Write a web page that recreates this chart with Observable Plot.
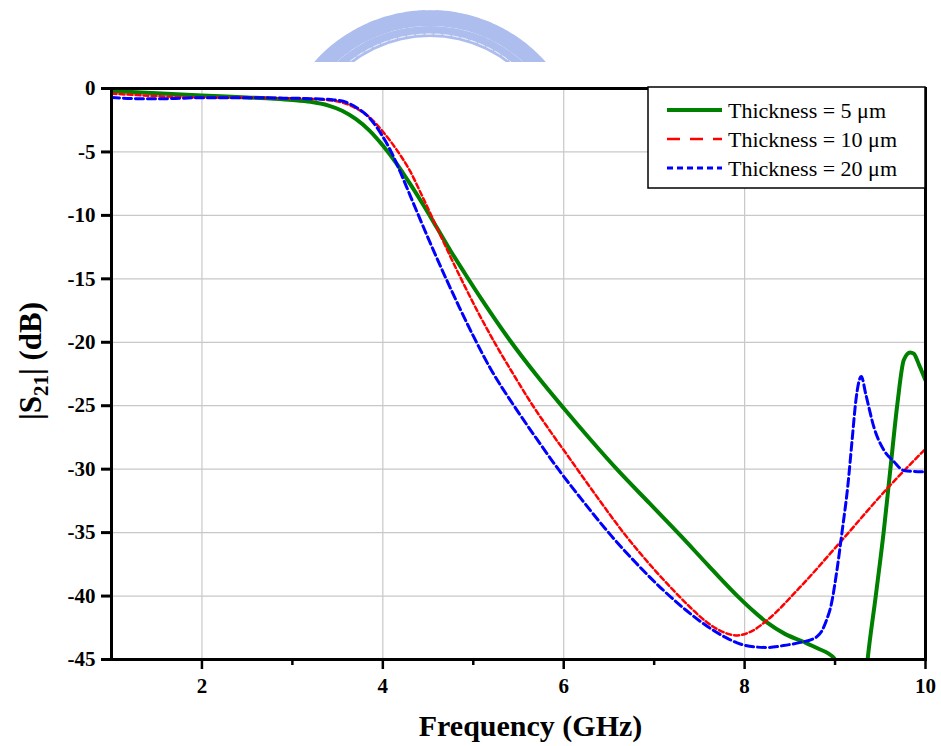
<!DOCTYPE html>
<html>
<head>
<meta charset="utf-8">
<script src="https://cdn.jsdelivr.net/npm/d3@7"></script>
<script src="https://cdn.jsdelivr.net/npm/@observablehq/plot@0.6"></script>
<style>
  body { margin: 0; background: #fff; }
  #wrap { position: relative; width: 941px; height: 746px; overflow: hidden; }
  #wrap svg { position: absolute; left: 0; top: 0; }
</style>
</head>
<body>
<div id="wrap"></div>
<script>
// ---- data ----
const seriesNames = ["Thickness = 5 \u03bcm", "Thickness = 10 \u03bcm", "Thickness = 20 \u03bcm"];
const seriesColors = ["#008000", "#ff0000", "#0000ff"];

const freq5 = [1.0,1.5,2.0,2.5,2.8,3.0,3.2,3.4,3.55,3.7,3.85,4.0,4.15,4.3,4.45,4.6,4.75,4.9,5.1,5.4,5.7,6.0,6.3,6.6,6.95,7.3,7.6,7.95,8.1,8.25,8.45,8.65,8.8,8.99,9.05,9.15,9.25,9.3,9.36,9.45,9.54,9.61,9.69,9.76,9.83,9.87,9.93,10.0];
const s21_5 = [-0.2,-0.38,-0.55,-0.7,-0.8,-0.9,-1.05,-1.35,-1.75,-2.4,-3.3,-4.5,-5.9,-7.5,-9.2,-11.0,-12.8,-14.5,-16.7,-19.8,-22.6,-25.2,-27.7,-30.1,-32.7,-35.3,-37.6,-40.2,-41.2,-42.1,-43.0,-43.6,-44.1,-44.9,-46.0,-50.0,-52.0,-49.5,-45.0,-40.0,-34.8,-30.1,-24.8,-21.4,-20.8,-20.9,-21.8,-23.0];

const freq10 = [1.0,1.5,2.0,2.5,2.9,3.2,3.4,3.55,3.7,3.85,4.0,4.15,4.3,4.45,4.6,4.75,4.9,5.05,5.25,5.45,5.65,5.85,6.05,6.35,6.66,7.0,7.22,7.4,7.59,7.75,7.92,8.07,8.25,8.6,9.1,9.58,10.0];
const s21_10 = [-0.4,-0.6,-0.7,-0.72,-0.76,-0.82,-0.92,-1.1,-1.55,-2.25,-3.4,-4.8,-6.5,-8.7,-11.0,-13.3,-15.5,-17.6,-20.2,-22.6,-24.9,-27.0,-29.0,-32.0,-35.0,-37.9,-39.6,-40.9,-42.1,-42.8,-43.1,-42.8,-41.9,-39.4,-35.4,-31.5,-28.4];

const freq20 = [1.0,1.3,1.6,2.0,2.5,2.9,3.2,3.46,3.6,3.72,3.85,4.0,4.1,4.2,4.3,4.4,4.55,4.7,4.85,5.0,5.2,5.45,5.7,5.95,6.2,6.52,6.8,7.11,7.35,7.59,7.8,7.96,8.1,8.25,8.43,8.62,8.73,8.8,8.85,8.9,8.96,9.02,9.08,9.14,9.19,9.23,9.29,9.34,9.43,9.54,9.65,9.76,9.95,10.0];
const s21_20 = [-0.7,-0.8,-0.8,-0.72,-0.72,-0.76,-0.8,-0.9,-1.1,-1.55,-2.3,-3.8,-5.1,-6.7,-8.4,-10.1,-12.6,-15.0,-17.3,-19.5,-22.2,-25.0,-27.6,-30.1,-32.4,-35.2,-37.4,-39.6,-41.1,-42.4,-43.3,-43.8,-44.0,-44.05,-43.9,-43.65,-43.45,-43.2,-42.8,-42.0,-40.6,-38.0,-34.8,-31.4,-27.6,-24.6,-22.7,-24.1,-26.7,-28.5,-29.4,-30.1,-30.2,-30.2];

const xTicks = [2, 4, 6, 8, 10];
const xMinorTicks = [3, 5, 7, 9];
const xGrid = [2, 4, 6, 8];
const yTicks = [0, -5, -10, -15, -20, -25, -30, -35, -40, -45];
const yGrid = [-5, -10, -15, -20, -25, -30, -35, -40];
const xTitle = "Frequency (GHz)";

// ---- build tables ----
const toRows = (fs, vs) => fs.map((f, i) => ({f, v: vs[i]}));
const d5 = toRows(freq5, s21_5);
const d10 = toRows(freq10, s21_10);
const d20 = toRows(freq20, s21_20);

const font = "'Liberation Serif', 'Times New Roman', serif";

const chart = Plot.plot({
  width: 941,
  height: 746,
  marginLeft: 111,
  marginRight: 16,
  marginTop: 88,
  marginBottom: 87,
  style: {fontFamily: font, fontWeight: "bold", fontSize: "20px", background: "transparent", color: "black"},
  x: {domain: [1, 10]},
  y: {domain: [-45, 0]},
  marks: [
    Plot.gridX(xGrid, {stroke: "#c8c8c8", strokeOpacity: 1, strokeWidth: 1.2}),
    Plot.gridY(yGrid, {stroke: "#c8c8c8", strokeOpacity: 1, strokeWidth: 1.2}),
    Plot.line(d5, {x: "f", y: "v", stroke: seriesColors[0], strokeWidth: 4, curve: "monotone-x", clip: true}),
    Plot.line(d10, {x: "f", y: "v", stroke: seriesColors[1], strokeWidth: 2.5, strokeDasharray: "5,3", curve: "monotone-x", clip: true}),
    Plot.line(d20, {x: "f", y: "v", stroke: seriesColors[2], strokeWidth: 3, strokeDasharray: "8,4", curve: "monotone-x", clip: true}),
    Plot.frame({stroke: "black", strokeWidth: 3}),
    Plot.axisX(xTicks, {tickSize: 10, tickPadding: 9, strokeWidth: 2.5, fontSize: 21, fontWeight: "bold", label: null}),
    Plot.axisX(xMinorTicks, {tickSize: 6, strokeWidth: 2.5, tickFormat: () => "", label: null}),
    Plot.axisY(yTicks, {tickSize: 10, tickPadding: 6, strokeWidth: 3, fontSize: 21, fontWeight: "bold", tickFormat: d => String(d), label: null}),
    Plot.text([xTitle], {frameAnchor: "bottom", text: d => d, dy: 76, dx: 12, lineAnchor: "bottom", fontSize: 30, fontWeight: "bold"})
  ]
});

const wrap = document.getElementById("wrap");

// faint watermark arc (decoration)
const wm = d3.create("svg").attr("width", 941).attr("height", 746);
const arcG = wm.append("g").attr("transform", "translate(430,165)");
arcG.append("path")
  .attr("d", d3.arc()({innerRadius: 128, outerRadius: 139, startAngle: -0.9, endAngle: 0.9}))
  .attr("fill", "#adbdee");
arcG.append("path")
  .attr("d", d3.arc()({innerRadius: 147, outerRadius: 147, startAngle: -0.9, endAngle: 0.9}).replace(/Z$/, ""))
  .attr("fill", "none").attr("stroke", "#adbdee").attr("stroke-width", 16).attr("stroke-dasharray", "7,5");
arcG.append("path")
  .attr("d", d3.arc()({innerRadius: 131, outerRadius: 131, startAngle: -0.85, endAngle: 0.85}).replace(/Z$/, ""))
  .attr("fill", "none").attr("stroke", "#e4e9f8").attr("stroke-width", 1).attr("stroke-dasharray", "6,3");
wm.append("rect").attr("x", 0).attr("y", 62).attr("width", 941).attr("height", 700).attr("fill", "white");
wrap.appendChild(wm.node());
wrap.appendChild(chart);

// y-axis title with subscript
const svg = d3.select(chart);
const yt = svg.append("text")
  .attr("transform", "translate(41,361) rotate(-90)")
  .attr("text-anchor", "middle")
  .attr("font-family", font)
  .attr("font-weight", "bold")
  .attr("font-size", 31)
  .attr("fill", "black");
yt.append("tspan").text("|S");
yt.append("tspan").attr("font-size", 21).attr("dy", 7).text("21");
yt.append("tspan").attr("dy", -7).text("| (dB)");

// legend
const leg = d3.create("svg").attr("width", 941).attr("height", 746).style("pointer-events", "none");
leg.append("rect").attr("x", 648).attr("y", 87).attr("width", 277).attr("height", 101)
  .attr("fill", "white").attr("stroke", "black").attr("stroke-width", 1.5);
const legDash = [null, "13,10", "6,4"];
const legWidth = [4, 2.5, 3];
seriesNames.forEach((name, i) => {
  const y = 110 + i * 29;
  leg.append("line").attr("x1", 667).attr("x2", 722).attr("y1", y).attr("y2", y)
    .attr("stroke", seriesColors[i]).attr("stroke-width", legWidth[i])
    .attr("stroke-dasharray", legDash[i]);
  leg.append("text").attr("x", 728).attr("y", y + 8)
    .attr("font-family", font).attr("font-size", 22).attr("fill", "black").text(name);
});
wrap.appendChild(leg.node());
</script>
</body>
</html>
